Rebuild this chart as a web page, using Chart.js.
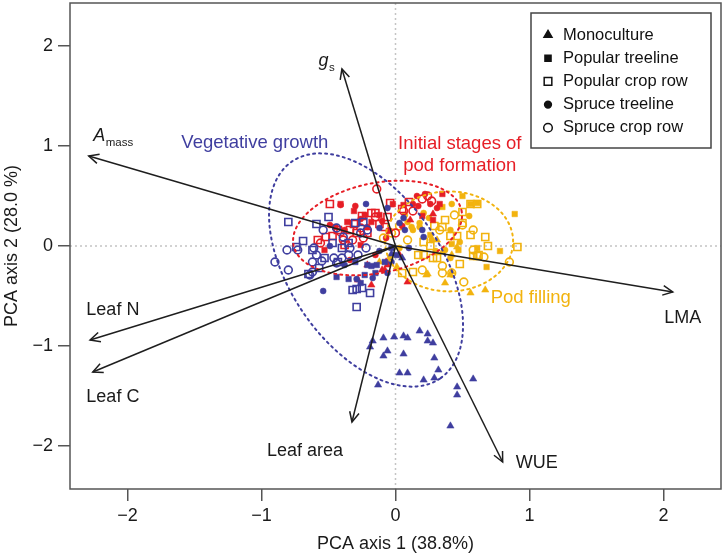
<!DOCTYPE html>
<html>
<head>
<meta charset="utf-8">
<script src="https://cdn.jsdelivr.net/npm/chart.js@4.4.0/dist/chart.umd.min.js"></script>
<style>
html, body { margin: 0; padding: 0; background: #fff; }
</style>
</head>
<body>
<canvas id="pca" width="724" height="557"></canvas>
<script>
// PCA SCORES (axis 1, axis 2)

// vegetative growth
var vegMono = [[-0.17,-0.95],[-0.09,-0.92],[-0.01,-0.91],[0.06,-0.90],[0.09,-0.92],[0.18,-0.85],[0.24,-0.88],[0.24,-0.95],
    [0.28,-0.97],[-0.19,-1.01],[-0.06,-1.05],[-0.09,-1.10],[0.06,-1.08],[0.29,-1.12],[0.32,-1.24],[0.03,-1.27],[0.09,-1.27],
    [0.21,-1.34],[0.29,-1.32],[-0.13,-1.39],[0.58,-1.33],[0.46,-1.41],[0.46,-1.49],[0.41,-1.80],[0.05,-0.12],[-0.03,-0.08]];
var vegPopTree = [[-0.21,-0.19],[-0.18,-0.20],[-0.14,-0.19],[-0.23,-0.29],[-0.15,-0.27],[-0.44,-0.31],[-0.35,-0.33],
    [-0.26,-0.37],[0.01,-0.09],[-0.08,-0.16],[-0.30,-0.16],[-0.03,-0.02]];
var vegPopCrop = [[-0.80,0.24],[-0.74,-0.01],[-0.69,0.05],[-0.62,-0.04],[-0.59,0.22],[-0.50,0.29],[-0.47,0.03],[-0.40,-0.02],
    [-0.35,0.03],[-0.30,0.23],[-0.24,0.24],[-0.57,-0.22],[-0.65,-0.28],[-0.32,-0.44],[-0.29,-0.43],[-0.25,-0.42],[-0.19,-0.47],
    [-0.29,-0.61],[-0.53,-0.12],[-0.43,-0.16]];
var vegSprTree = [[-0.54,-0.45],[-0.29,-0.33],[-0.17,-0.32],[-0.06,-0.27],[-0.22,0.42],[-0.06,0.38],[-0.12,0.18],[0.03,0.23],
    [0.07,0.16],[0.20,0.16],[0.21,0.09],[0.06,0.28],[-0.38,-0.19],[-0.49,0.00],[-0.03,-0.16],[-0.12,-0.05],[0.10,-0.02]];
var vegSprCrop = [[-0.90,-0.16],[-0.80,-0.24],[-0.81,-0.04],[-0.73,-0.04],[-0.62,-0.16],[-0.55,-0.15],[-0.59,-0.09],[-0.46,-0.12],
    [-0.40,-0.12],[-0.64,-0.29],[-0.62,-0.26],[-0.44,-0.17],[-0.35,-0.09],[-0.28,-0.09],[-0.22,-0.02],[-0.34,-0.02],[-0.54,0.16],
    [-0.61,-0.02],[-0.44,0.18],[-0.39,0.09],[-0.26,0.13],[-0.21,0.16]];

// initial stages of pod formation
var initMono = [[0.28,0.32],[-0.18,-0.39],[-0.21,-0.19],[-0.08,-0.24],[-0.06,-0.19],[-0.07,-0.16],[-0.10,-0.24],[0.03,-0.09],
    [0.09,-0.36],[-0.28,-0.34],[0.11,0.26]];
var initPopTree = [[-0.31,0.35],[-0.41,0.42],[-0.36,0.24],[-0.45,0.19],[0.35,0.52],[0.33,0.42],[0.28,0.26],[0.06,0.41],
    [-0.02,0.42],[-0.23,0.31],[-0.12,0.31],[-0.53,-0.04],[-0.26,0.01],[-0.18,0.24],[0.20,0.30],[-0.05,0.15]];
var initPopCrop = [[-0.49,0.42],[-0.58,0.06],[-0.52,0.09],[-0.43,0.16],[-0.34,0.16],[-0.31,0.22],[-0.21,0.13],[-0.08,0.19],
    [-0.06,0.29],[-0.04,0.43],[0.05,0.37],[-0.18,0.33],[-0.15,0.33],[-0.29,0.13],[-0.47,0.10],[-0.38,0.01],[-0.25,0.30],
    [-0.12,0.22],[0.10,0.44]];
var initSprTree = [[-0.41,0.41],[-0.21,0.19],[0.13,0.42],[0.22,0.52],[0.16,0.50],[0.26,0.42],[0.17,0.40],[-0.30,0.40],
    [-0.49,0.21],[-0.38,0.16],[-0.07,0.08],[0.31,0.38],[-0.34,-0.14],[-0.15,-0.09],[-0.10,0.25],[0.05,0.20],[-0.26,0.27]];
var initSprCrop = [[-0.14,0.57],[-0.26,0.18],[-0.41,0.14],[-0.39,0.06],[-0.24,0.08],[-0.15,0.29],[-0.32,0.06],[0.24,0.50],
    [0.20,0.47],[0.06,0.35],[0.13,0.35],[0.27,0.45],[-0.56,0.03],[0.00,0.13]];

// pod filling
var fillMono = [[0.24,-0.28],[0.37,-0.37],[0.56,-0.47],[0.67,-0.44],[0.41,-0.29],[0.42,-0.09],[0.35,-0.06],[0.01,-0.21],
    [0.23,-0.29],[0.42,-0.26],[0.46,-0.01],[0.31,0.06],[-0.12,-0.16]];
var fillPopTree = [[0.89,0.32],[0.78,-0.05],[0.61,-0.02],[0.47,-0.04],[0.61,0.43],[0.56,0.42],[0.50,0.50],[0.35,0.39],
    [0.68,-0.21],[0.26,0.11],[0.42,0.02]];
var fillPopCrop = [[0.37,0.26],[0.35,0.19],[0.50,0.34],[0.50,0.23],[0.56,0.11],[0.67,0.09],[0.69,0.00],[0.91,-0.01],
    [0.21,0.04],[0.26,0.00],[0.56,0.42],[0.61,0.42],[0.61,-0.10],[0.58,-0.10],[0.41,0.10],[0.46,0.10],[0.28,-0.12],[0.31,-0.12],
    [0.13,-0.26],[0.05,-0.27],[0.48,-0.18],[0.17,-0.09],[0.21,-0.09],[0.62,-0.09],[0.29,0.20]];
var fillSprTree = [[0.33,0.40],[0.42,0.42],[0.21,0.33],[0.07,0.31],[0.09,0.24],[0.18,0.19],[0.13,0.16],[0.41,-0.12],
    [0.41,0.16],[0.12,0.19],[0.18,0.23],[0.27,0.06],[0.48,0.04],[0.37,-0.04],[0.03,-0.02],[-0.04,-0.12],[0.25,0.28],
    [0.55,0.30],[0.30,-0.05]];
var fillSprCrop = [[0.50,0.21],[0.58,0.16],[0.58,-0.04],[0.66,-0.11],[0.35,-0.20],[0.35,-0.27],[0.42,-0.27],[0.51,-0.36],
    [0.85,-0.16],[0.09,0.06],[0.03,0.20],[0.20,-0.24],[-0.09,0.08],[-0.03,0.13],[0.44,0.31],[0.33,0.16]];

var stages = ['Vegetative growth', 'Initial stages of pod formation', 'Pod filling'];
var treatments = ['Monoculture', 'Popular treeline', 'Popular crop row', 'Spruce treeline', 'Spruce crop row'];
var scores = [
    [vegMono, vegPopTree, vegPopCrop, vegSprTree, vegSprCrop],
    [initMono, initPopTree, initPopCrop, initSprTree, initSprCrop],
    [fillMono, fillPopTree, fillPopCrop, fillSprTree, fillSprCrop]
];

// confidence ellipses: centre and two conjugate semi-axes (data units)
var ellipseCentre = [[-0.22,-0.24], [-0.134,0.18], [0.40,0.046]];
var ellipseAxisU = [[0.552,-1.086], [0.627,0.175], [0.478,0]];
var ellipseAxisV = [[-0.469,-0.426], [0.069,-0.440], [0,0.50]];

// loadings (arrow tips)
var traits = ['gs', 'Amass', 'Leaf N', 'Leaf C', 'Leaf area', 'WUE', 'LMA'];
var loadX = [-0.40, -2.29, -2.28, -2.26, -0.325, 0.80, 2.07];
var loadY = [1.77, 0.90, -0.94, -1.26, -1.76, -2.16, -0.46];

var axisTicks = [-2, -1, 0, 1, 2];

// STYLE

var FONT = '"Liberation Sans", Arial, Helvetica, sans-serif';
var stageColors = ['#3f3e9f', '#e61e26', '#f2b30e'];
var markerStyle = [
    { pointStyle: 'triangle', radius: 4.2, filled: true },
    { pointStyle: 'rect', radius: 3.9, filled: true },
    { pointStyle: 'rect', radius: 5, filled: false },
    { pointStyle: 'circle', radius: 3, filled: true },
    { pointStyle: 'circle', radius: 3.9, filled: false }
];

// text placed on the plot (data coords)
var traitLabels = [
    { main: 'g', sub: 's', x: -0.575, y: 1.85, align: 'left', italic: true },
    { main: 'A', sub: 'mass', x: -2.257, y: 1.10, align: 'left', italic: true },
    { main: 'Leaf N', x: -2.11, y: -0.64, align: 'center' },
    { main: 'Leaf C', x: -2.11, y: -1.51, align: 'center' },
    { main: 'Leaf area', x: -0.675, y: -2.05, align: 'center' },
    { main: 'WUE', x: 1.055, y: -2.17, align: 'center' },
    { main: 'LMA', x: 2.145, y: -0.72, align: 'center' }
];
var stageLabels = [
    { lines: ['Vegetative growth'], x: -1.05, y: 1.03, color: 0 },
    { lines: ['Initial stages of', 'pod formation'], x: 0.48, y: 1.02, color: 1 },
    { lines: ['Pod filling'], x: 1.01, y: -0.52, color: 2 }
];

function toPoints(arr) {
    return arr.map(function (p) { return { x: p[0], y: p[1] }; });
}

function ellipseOutline(c, u, v) {
    var pts = [];
    for (var k = 0; k <= 120; k++) {
        var t = k / 120 * 2 * Math.PI;
        pts.push({ x: c[0] + u[0] * Math.cos(t) + v[0] * Math.sin(t), y: c[1] + u[1] * Math.cos(t) + v[1] * Math.sin(t) });
    }
    return pts;
}

var datasets = [];

// arrows
traits.forEach(function (name, i) {
    datasets.push({
        label: name,
        data: [{ x: 0, y: 0 }, { x: loadX[i], y: loadY[i] }],
        showLine: true,
        borderColor: '#1e1e1e',
        borderWidth: 1.5,
        pointRadius: 0,
        order: 0
    });
});

// ellipses
stages.forEach(function (name, i) {
    datasets.push({
        label: name + ' ellipse',
        data: ellipseOutline(ellipseCentre[i], ellipseAxisU[i], ellipseAxisV[i]),
        showLine: true,
        borderColor: stageColors[i],
        borderWidth: 2,
        borderDash: [2, 4],
        borderCapStyle: 'round',
        pointRadius: 0,
        order: 1
    });
});

// scores
scores.forEach(function (group, i) {
    group.forEach(function (arr, j) {
        var m = markerStyle[j];
        datasets.push({
            label: stages[i] + ' - ' + treatments[j],
            data: toPoints(arr),
            pointStyle: m.pointStyle,
            pointRadius: m.radius,
            pointBackgroundColor: m.filled ? stageColors[i] : 'rgba(0,0,0,0)',
            pointBorderColor: stageColors[i],
            pointBorderWidth: m.filled ? 0.5 : 1.6,
            order: 2
        });
    });
});

function fmtTick(v) {
    return v < 0 ? '\u2212' + Math.abs(v) : String(v);
}

var decorations = {
    id: 'decorations',
    beforeDatasetsDraw: function (chart) {
        var ctx = chart.ctx, a = chart.chartArea;
        var sx = chart.scales.x, sy = chart.scales.y;
        var x0 = sx.getPixelForValue(0), y0 = sy.getPixelForValue(0);
        ctx.save();
        ctx.strokeStyle = '#c4c4c4';
        ctx.lineWidth = 1.5;
        ctx.setLineDash([2, 3]);
        ctx.beginPath();
        ctx.moveTo(x0, a.top); ctx.lineTo(x0, a.bottom);
        ctx.moveTo(a.left, y0); ctx.lineTo(a.right, y0);
        ctx.stroke();
        ctx.restore();
    },
    afterDatasetsDraw: function (chart) {
        var ctx = chart.ctx, a = chart.chartArea;
        var sx = chart.scales.x, sy = chart.scales.y;
        ctx.save();

        // arrowheads
        ctx.strokeStyle = '#1e1e1e';
        ctx.lineWidth = 1.5;
        var ox = sx.getPixelForValue(0), oy = sy.getPixelForValue(0);
        traits.forEach(function (name, i) {
            var tx = sx.getPixelForValue(loadX[i]), ty = sy.getPixelForValue(loadY[i]);
            var ang = Math.atan2(ty - oy, tx - ox);
            ctx.beginPath();
            ctx.moveTo(tx - 11 * Math.cos(ang - 0.45), ty - 11 * Math.sin(ang - 0.45));
            ctx.lineTo(tx, ty);
            ctx.lineTo(tx - 11 * Math.cos(ang + 0.45), ty - 11 * Math.sin(ang + 0.45));
            ctx.stroke();
        });

        // trait labels
        ctx.fillStyle = '#1a1a1a';
        ctx.textBaseline = 'middle';
        traitLabels.forEach(function (l) {
            var px = sx.getPixelForValue(l.x), py = sy.getPixelForValue(l.y);
            ctx.font = (l.italic ? 'italic ' : '') + '18px ' + FONT;
            ctx.textAlign = l.align;
            ctx.fillText(l.main, px, py);
            if (l.sub) {
                var w = ctx.measureText(l.main).width;
                ctx.font = '11.5px ' + FONT;
                ctx.textAlign = 'left';
                ctx.fillText(l.sub, px + w + 0.5, py + 7);
            }
        });

        // stage labels
        ctx.font = '18.5px ' + FONT;
        ctx.textAlign = 'center';
        stageLabels.forEach(function (l) {
            var px = sx.getPixelForValue(l.x), py = sy.getPixelForValue(l.y);
            ctx.fillStyle = stageColors[l.color];
            l.lines.forEach(function (t, k) {
                ctx.fillText(t, px, py + k * 22);
            });
        });

        // frame
        ctx.strokeStyle = '#555';
        ctx.lineWidth = 1.5;
        ctx.strokeRect(a.left, a.top, a.right - a.left, a.bottom - a.top);

        // legend
        var bw = 180, bh = 135;
        var bx = a.right - 10 - bw, by = a.top + 10;
        ctx.fillStyle = '#fff';
        ctx.fillRect(bx, by, bw, bh);
        ctx.strokeStyle = '#444';
        ctx.lineWidth = 1.5;
        ctx.strokeRect(bx, by, bw, bh);
        ctx.font = '16.5px ' + FONT;
        ctx.textAlign = 'left';
        ctx.textBaseline = 'middle';
        treatments.forEach(function (name, j) {
            var m = markerStyle[j];
            var iy = by + 22 + j * 23.2;
            ctx.fillStyle = m.filled ? '#111' : 'rgba(0,0,0,0)';
            ctx.strokeStyle = '#111';
            Chart.helpers.drawPoint(ctx, {
                pointStyle: m.pointStyle,
                radius: m.radius + 0.4,
                rotation: 0,
                borderWidth: m.filled ? 0.5 : 1.4
            }, bx + 17, iy);
            ctx.fillStyle = '#111';
            ctx.fillText(name, bx + 32, iy);
        });

        ctx.restore();
    }
};

function noEdgePadding(s) {
    s.paddingTop = 0;
    s.paddingBottom = 0;
    s.paddingLeft = 0;
    s.paddingRight = 0;
}

var chart = new Chart(document.getElementById('pca'), {
    type: 'scatter',
    data: { datasets: datasets },
    options: {
        responsive: false,
        animation: false,
        events: [],
        layout: { autoPadding: false, padding: { top: 3, right: 3, left: 0, bottom: 0 } },
        plugins: { legend: { display: false }, tooltip: { enabled: false } },
        scales: {
            x: {
                type: 'linear',
                min: -2.43,
                max: 2.43,
                afterBuildTicks: function (s) { s.ticks = axisTicks.map(function (v) { return { value: v }; }); },
                afterFit: function (s) { s.height = 68; noEdgePadding(s); },
                grid: { drawOnChartArea: false, drawTicks: true, tickLength: 12, color: '#555', lineWidth: 1.5 },
                border: { display: false },
                ticks: { color: '#1a1a1a', font: { size: 18, family: FONT }, padding: 4, maxRotation: 0, autoSkip: false, callback: fmtTick },
                title: { display: true, text: 'PCA axis 1 (38.8%)', color: '#1a1a1a', font: { size: 18, family: FONT }, padding: { top: 0, bottom: 2 } }
            },
            y: {
                type: 'linear',
                min: -2.43,
                max: 2.43,
                afterBuildTicks: function (s) { s.ticks = axisTicks.map(function (v) { return { value: v }; }); },
                afterFit: function (s) { s.width = 70; noEdgePadding(s); },
                grid: { drawOnChartArea: false, drawTicks: true, tickLength: 12, color: '#555', lineWidth: 1.5 },
                border: { display: false },
                ticks: { color: '#1a1a1a', font: { size: 18, family: FONT }, padding: 5, autoSkip: false, callback: fmtTick },
                title: { display: true, text: 'PCA axis 2 (28.0 %)', color: '#1a1a1a', font: { size: 18, family: FONT }, padding: { top: 1, bottom: 0 } }
            }
        }
    },
    plugins: [decorations]
});
</script>
</body>
</html>
